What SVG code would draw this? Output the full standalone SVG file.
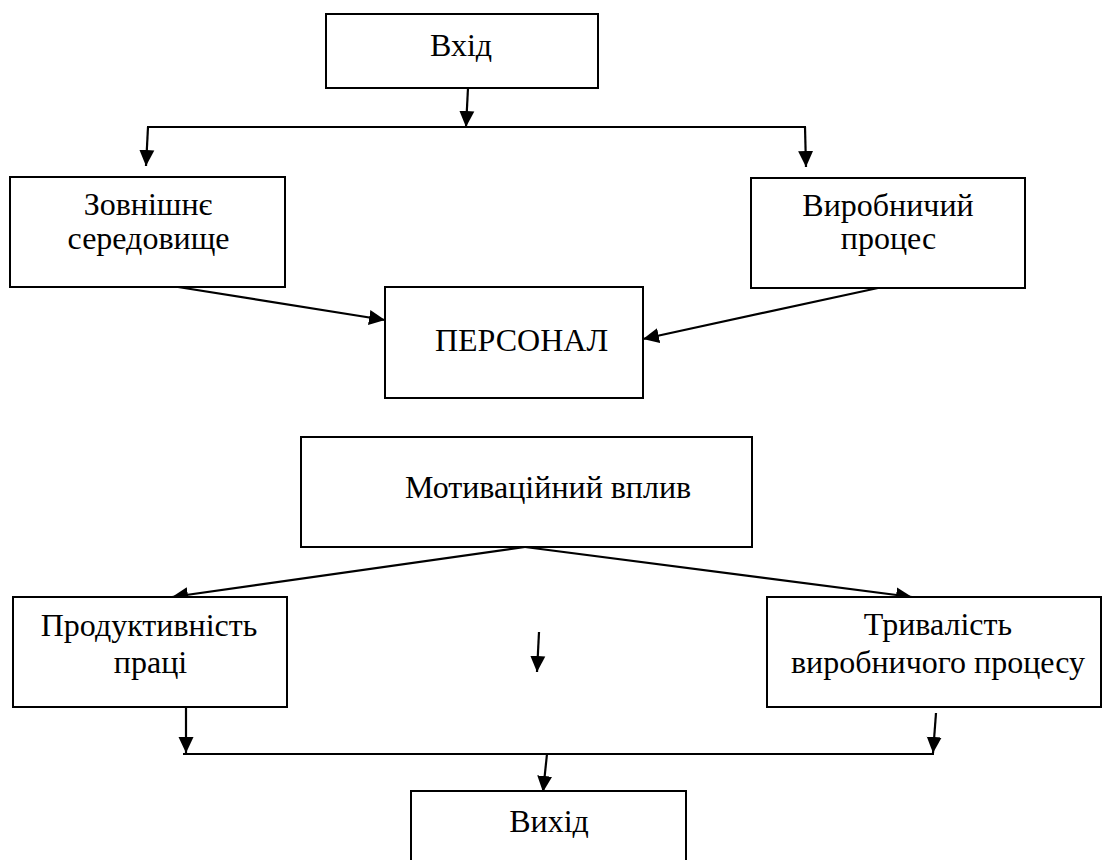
<svg xmlns="http://www.w3.org/2000/svg" width="1110" height="860" viewBox="0 0 1110 860">
<style>
.box{fill:#fff;stroke:#000;stroke-width:2}
.t{font-family:"Liberation Serif","Times New Roman",serif;font-size:32px;fill:#000;text-anchor:middle}
.c{stroke:#000;stroke-width:2.2;fill:none}
</style>
<defs>
<marker id="ah" markerUnits="userSpaceOnUse" markerWidth="17" markerHeight="16" refX="16" refY="8" orient="auto">
<path d="M0,0.5 L16,8 L0,15.5 Z" fill="#000"/>
</marker>
</defs>
<rect width="1110" height="860" fill="#fff"/>
<g id="connectors">
<line class="c" x1="468" y1="88" x2="466" y2="127" marker-end="url(#ah)"/>
<line class="c" x1="147" y1="127" x2="806" y2="127"/>
<line class="c" x1="148" y1="127" x2="146" y2="166" marker-end="url(#ah)"/>
<line class="c" x1="805" y1="127" x2="806" y2="167" marker-end="url(#ah)"/>
<line class="c" x1="178" y1="287" x2="385" y2="320" marker-end="url(#ah)"/>
<line class="c" x1="878" y1="288" x2="643" y2="339" marker-end="url(#ah)"/>
<line class="c" x1="525" y1="547" x2="172" y2="597" marker-end="url(#ah)"/>
<line class="c" x1="525" y1="547" x2="912" y2="597" marker-end="url(#ah)"/>
<line class="c" x1="539" y1="632" x2="537" y2="672" marker-end="url(#ah)"/>
<line class="c" x1="186" y1="708" x2="186" y2="753" marker-end="url(#ah)"/>
<line class="c" x1="936" y1="713" x2="933" y2="753" marker-end="url(#ah)"/>
<line class="c" x1="183" y1="754" x2="934" y2="754"/>
<line class="c" x1="547" y1="754" x2="543" y2="792" marker-end="url(#ah)"/>
</g>
<g id="vkhid">
<rect class="box" x="326" y="14" width="272" height="74"/>
<text class="t" x="461" y="56">Вхід</text>
</g>
<g id="zovnishnie">
<rect class="box" x="10" y="177" width="275" height="110"/>
<text class="t" x="148" y="215">Зовнішнє</text>
<text class="t" x="148.5" y="249">середовище</text>
</g>
<g id="vyrobnychyi">
<rect class="box" x="751" y="178" width="274" height="110"/>
<text class="t" x="888" y="216">Виробничий</text>
<text class="t" x="888.5" y="249">процес</text>
</g>
<g id="personal">
<rect class="box" x="385" y="287" width="258" height="111"/>
<text class="t" x="521.5" y="351">ПЕРСОНАЛ</text>
</g>
<g id="motyvatsiinyi">
<rect class="box" x="301" y="437" width="451" height="110"/>
<text class="t" x="405" y="498" style="text-anchor:start">Мотиваційний вплив</text>
</g>
<g id="produktyvnist">
<rect class="box" x="13" y="597" width="274" height="110"/>
<text class="t" x="149" y="636">Продуктивність</text>
<text class="t" x="150.5" y="673">праці</text>
</g>
<g id="tryvalist">
<rect class="box" x="767" y="597" width="334" height="110"/>
<text class="t" x="938" y="635">Тривалість</text>
<text class="t" x="938" y="673">виробничого процесу</text>
</g>
<g id="vykhid">
<rect class="box" x="411" y="791" width="275" height="80"/>
<text class="t" x="549" y="832">Вихід</text>
</g>
</svg>
